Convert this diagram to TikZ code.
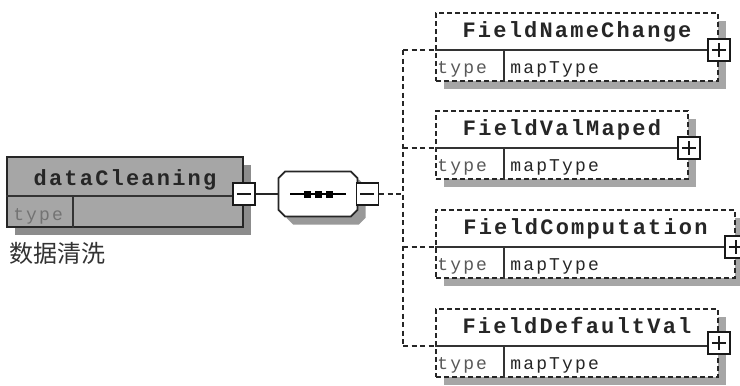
\documentclass[tikz,border=0pt]{standalone}
\usepackage{fontspec}
\setmonofont{Liberation Mono}
\newfontfamily\namefont{Liberation Mono}[LetterSpace=10]
\newfontfamily\attrfont{Liberation Mono}[LetterSpace=12]
\newfontfamily\cjk{Noto Sans CJK SC}
\usetikzlibrary{shapes.misc}

\begin{document}
\begin{tikzpicture}[x=1pt, y=-1pt,
    shade/.style={preaction={draw=none, fill=#1, transform canvas={shift={(8pt,-8pt)}}}},
    rootbox/.style={shade=black!45, draw=black!85, line width=1.8pt, fill=black!35},
    elembox/.style={shade=black!35, draw=black!85, line width=1.7pt, dash pattern=on 5pt off 3pt,
        fill=white, minimum height=68pt},
    seqbox/.style={shade=black!40, chamfered rectangle, chamfered rectangle xsep=10pt,
        chamfered rectangle ysep=10pt, draw=black!85, line width=1.8pt, fill=white,
        minimum width=79pt, minimum height=45pt},
    divider/.style={black!80, line width=1.4pt},
    toggle/.style={draw=black!90, fill=white, line width=1.5pt, minimum size=22pt, inner sep=0pt},
    minusbox/.style={toggle, path picture={\draw[line width=1.6pt]
        ([xshift=4pt]path picture bounding box.west) -- ([xshift=-4pt]path picture bounding box.east);}},
    plusbox/.style={toggle, path picture={\draw[line width=1.6pt]
        ([xshift=4pt]path picture bounding box.west) -- ([xshift=-4pt]path picture bounding box.east)
        ([yshift=-4pt]path picture bounding box.north) -- ([yshift=4pt]path picture bounding box.south);}},
    elemname/.style={font=\namefont\fontsize{22}{24}\selectfont\bfseries, text=black!85, anchor=base, inner sep=0pt},
    attrtext/.style={font=\attrfont\fontsize{18}{20}\selectfont, text=black!85, anchor=base west, inner sep=0pt},
    link/.style={black!85, line width=1.6pt},
    dashlink/.style={link, dash pattern=on 5pt off 3.5pt}]
    \fill[white] (0,0) rectangle (740,386);
    \useasboundingbox (0,0) rectangle (740,386);

    % root element
    \node[rootbox, minimum width=236pt, minimum height=70pt] (dc) at (125,192) {};
    \coordinate (dc-div) at ([yshift=-40pt]dc.north west);
    \draw[divider] (dc-div) -- (dc-div -| dc.east);
    \draw[divider] ([xshift=67pt]dc-div) -- ([xshift=67pt]dc.south west);
    \node[elemname] (dc-name) at ([yshift=-29pt]dc.north) {dataCleaning};
    \node[attrtext, text=black!55] (dc-type) at ([shift={(7pt,-24pt)}]dc-div) {type};
    \node[minusbox] (dc-min) at ([yshift=-2pt]dc.east) {};
    \node[anchor=west, inner sep=0pt, text=black!80, font=\cjk\fontsize{24}{26}\selectfont] (dc-note)
        at ([shift={(3pt,-25pt)}]dc.south west) {数据清洗};

    % sequence
    \node[seqbox] (seq) at (318,194) {};
    \draw[line width=1.6pt] ([xshift=-28pt]seq.center) -- ([xshift=28pt]seq.center);
    \fill ([xshift=-11pt]seq.center) +(-3.5,-3.5) rectangle +(3.5,3.5);
    \fill (seq.center) +(-3.5,-3.5) rectangle +(3.5,3.5);
    \fill ([xshift=11pt]seq.center) +(-3.5,-3.5) rectangle +(3.5,3.5);
    \node[minusbox] (seq-min) at ([xshift=9pt]seq.east) {};
    \coordinate (bus) at (403,194);

    % FieldNameChange
    \node[elembox, minimum width=282pt] (nc) at (577,47) {};
    \coordinate (nc-div) at ([yshift=-38pt]nc.north west);
    \draw[divider] (nc-div) -- (nc-div -| nc.east);
    \draw[divider] ([xshift=69pt]nc-div) -- ([xshift=69pt]nc.south west);
    \node[elemname] (nc-name) at ([yshift=-25pt]nc.north) {FieldNameChange};
    \node[attrtext, text=black!65] (nc-type) at ([shift={(2pt,-23pt)}]nc-div) {type};
    \node[attrtext] (nc-map) at ([shift={(75pt,-23pt)}]nc-div) {mapType};
    \node[plusbox] (nc-plus) at (nc-div -| nc.east) {};

    % FieldValMaped
    \node[elembox, minimum width=252pt] (vm) at (562,145) {};
    \coordinate (vm-div) at ([yshift=-38pt]vm.north west);
    \draw[divider] (vm-div) -- (vm-div -| vm.east);
    \draw[divider] ([xshift=69pt]vm-div) -- ([xshift=69pt]vm.south west);
    \node[elemname] (vm-name) at ([yshift=-25pt]vm.north) {FieldValMaped};
    \node[attrtext, text=black!65] (vm-type) at ([shift={(2pt,-23pt)}]vm-div) {type};
    \node[attrtext] (vm-map) at ([shift={(75pt,-23pt)}]vm-div) {mapType};
    \node[plusbox] (vm-plus) at (vm-div -| vm.east) {};

    % FieldComputation
    \node[elembox, minimum width=299pt] (fc) at (585.5,244) {};
    \coordinate (fc-div) at ([yshift=-38pt]fc.north west);
    \draw[divider] (fc-div) -- (fc-div -| fc.east);
    \draw[divider] ([xshift=69pt]fc-div) -- ([xshift=69pt]fc.south west);
    \node[elemname] (fc-name) at ([yshift=-25pt]fc.north) {FieldComputation};
    \node[attrtext, text=black!65] (fc-type) at ([shift={(2pt,-23pt)}]fc-div) {type};
    \node[attrtext] (fc-map) at ([shift={(75pt,-23pt)}]fc-div) {mapType};
    \node[plusbox] (fc-plus) at (fc-div -| fc.east) {};

    % FieldDefaultVal
    \node[elembox, minimum width=282pt] (df) at (577,343) {};
    \coordinate (df-div) at ([yshift=-38pt]df.north west);
    \draw[divider] (df-div) -- (df-div -| df.east);
    \draw[divider] ([xshift=69pt]df-div) -- ([xshift=69pt]df.south west);
    \node[elemname] (df-name) at ([yshift=-25pt]df.north) {FieldDefaultVal};
    \node[attrtext, text=black!65] (df-type) at ([shift={(2pt,-23pt)}]df-div) {type};
    \node[attrtext] (df-map) at ([shift={(75pt,-23pt)}]df-div) {mapType};
    \node[plusbox] (df-plus) at ([yshift=3pt]df-div -| df.east) {};

    % connectors
    \draw[link] (dc-min.east) -- (seq.west);
    \draw[dashlink] (seq-min.east) -- (bus);
    \draw[dashlink] (nc-div -| bus) -- (df-div -| bus);
    \draw[dashlink] (nc-div -| bus) -- (nc-div);
    \draw[dashlink] (vm-div -| bus) -- (vm-div);
    \draw[dashlink] (fc-div -| bus) -- (fc-div);
    \draw[dashlink] (df-div -| bus) -- (df-div);
\end{tikzpicture}
\end{document}
